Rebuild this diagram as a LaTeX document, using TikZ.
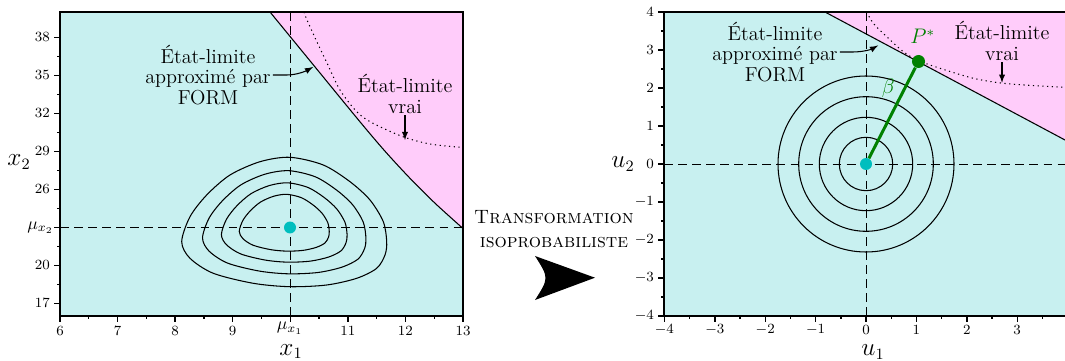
\documentclass[tikz,border=0pt]{standalone}
\usepackage{fontspec}
\usetikzlibrary{calc}

\definecolor{safecyan}{RGB}{200,240,240}
\definecolor{failpink}{RGB}{255,204,250}
\definecolor{meancyan}{RGB}{0,190,190}
\definecolor{designgreen}{RGB}{0,128,0}

\newcommand
    {\tickfont}
    {%
        \fontsize{8}{9}\selectfont%
    }

\begin{document}
\begin{tikzpicture}[x=0.02cm, y=-0.02cm,
        frame/.style={line width=0.8pt},
        axisdash/.style={line width=0.5pt, dash pattern=on 5pt off 3pt},
        formline/.style={line width=0.6pt},
        trueline/.style={line width=0.6pt, dash pattern=on 0.7pt off 2pt},
        contour/.style={line width=0.6pt},
        statelabel/.style={align=center, inner sep=1pt, font=\fontsize{11.5}{11.5}\selectfont},
        pointer/.style={-latex, line width=0.6pt},
        ticklabel/.style={inner sep=1pt, font=\tickfont},
        axislabel/.style={inner sep=0pt, font=\fontsize{13.5}{15}\selectfont},
        mulabel/.style={inner sep=0pt, font=\fontsize{10}{12}\selectfont},
        meandot/.style={circle, fill=meancyan, inner sep=0pt, minimum size=0.24cm},
        designdot/.style={circle, fill=designgreen, inner sep=0pt, minimum size=0.26cm}]
        \useasboundingbox (0,0) rectangle (1065,361);

        % 1. Left plot: physical space (x1, x2)
        \fill[safecyan] (60,12) rectangle (463,316);
        \fill[failpink] plot[smooth] coordinates {(270,12) (315,66.9) (360,121.8) (385,151.2) (410,178.3) (435,203.2) (463,228.5)} -- (463,12) -- cycle;
        \draw[formline] plot[smooth] coordinates {(270,12) (315,66.9) (360,121.8) (385,151.2) (410,178.3) (435,203.2) (463,228.5)};
        \draw[trueline] plot[smooth] coordinates {(304,12) (307,20) (317,42) (327,63) (340,90) (357,112) (373,123.3) (403,136.7) (430,144) (463,147.5)};

        % Mean lines
        \draw[axisdash] (290,12) -- (290,316);
        \draw[axisdash] (60,227.5) -- (463,227.5);

        % Density contours, scaled copies of the outer one
        \foreach \s in {1,0.797,0.613,0.439}
        {
            \begin{scope}[shift={(284.3,223.3)}, scale=\s]
                \draw[contour] plot[smooth cycle] coordinates {(-102.6,18.4) (-94.3,35) (-71,50) (-31,60) (5.7,63.4) (42.4,61.7) (72.4,55) (92.4,45) (100.7,31.7) (102.4,18.4) (99,-1.6) (85.7,-23.3) (65.7,-41.6) (39,-58.3) (5.7,-66) (-24.3,-61.6) (-54.3,-48.3) (-77.6,-28.3) (-94.3,-6.6)};
            \end{scope}
        }
        \node (m1) at (290,227.5) [meandot] {};

        % Labels and pointers
        \node (formlbl1) at (208,75) [statelabel] {État-limite\\approximé par\\FORM};
        \coordinate (formtip1) at (313,67);
        \draw[pointer] (formlbl1.east) -- ++(14,0) .. controls ++(10,0) and ($(formtip1)+(-7,4)$) .. (formtip1);

        \node (truelbl1) at (405,94) [statelabel] {État-limite\\vrai};
        \coordinate (truetip1) at (405,140);
        \draw[pointer] (truelbl1.south) -- (truetip1);

        % Frame and ticks
        \draw[frame] (60,12) rectangle (463,316);
        \foreach \v in {6,...,13}
            \draw[frame] ({60+57.571*(\v-6)},316) -- ++(0,6);
        \foreach \v in {6.5,7.5,...,12.5}
            \draw[frame] ({60+57.571*(\v-6)},316) -- ++(0,3);
        \foreach \v in {6,7,8,9,11,12,13}
            \node (xt\v) at ({60+57.571*(\v-6)},331) [ticklabel] {\v};
        \foreach \v in {17,20,...,38}
            \draw[frame] (60,{12+12.667*(40-\v)}) -- ++(-6,0);
        \foreach \v in {18.5,21.5,...,36.5}
            \draw[frame] (60,{12+12.667*(40-\v)}) -- ++(-3,0);
        \foreach \v in {17,20,26,29,32,35,38}
            \node (yt\v) at (52,{12+12.667*(40-\v)}) [ticklabel, anchor=east] {\v};
        \node (mu1lbl) at (290,322) [mulabel, anchor=north] {$\mu_{x_1}$};
        \node (mu2lbl) at (54,227.5) [mulabel, anchor=east] {$\mu_{x_2}$};
        \node (x1lbl) at (291,355) [axislabel, anchor=base] {$x_1$};
        \node (x2lbl) at (19,162) [axislabel] {$x_2$};

        % 2. Transformation arrow
        \node (transf) at (554,229) [align=center, inner sep=0pt, font=\fontsize{11}{14}\selectfont] {\textsc{Transformation}\\\textsc{isoprobabiliste}};
        \fill (535,256) -- (595,277.7) -- (535,300) .. controls (549,278) .. (535,256) -- cycle;

        % 3. Right plot: standard space (u1, u2)
        \fill[safecyan] (664,12) rectangle (1068,316);
        \fill[failpink] (825,12) -- (1068,141.6) -- (1068,12) -- cycle;
        \draw[formline] (825,12) -- (1068,141.6);
        \draw[trueline] plot[smooth] coordinates {(866.7,12) (873.3,23.3) (886.7,36.7) (903.3,51.7) (918,60.5) (940,68.3) (973.3,78.3) (1003.3,83.3) (1040,86) (1068,87.5)};

        \draw[axisdash] (866,12) -- (866,316);
        \draw[axisdash] (664,164) -- (1068,164);

        \coordinate (c2) at (866,164);
        \foreach \r in {26.7,46.7,67.3,88}
            \draw[contour] (c2) circle[radius=\r];

        \node (o2) at (c2) [meandot] {};
        \node (ps) at (918.5,61.5) [designdot] {};
        \draw[designgreen, line width=1.7pt] (o2) -- (ps);
        \node (pslbl) at (922.7,36.7) [inner sep=0pt, text=designgreen, font=\fontsize{12}{14}\selectfont] {$P^*$};
        \node (betalbl) at (888.3,88.3) [inner sep=0pt, text=designgreen, font=\fontsize{12}{14}\selectfont] {$\beta$};

        \node (formlbl2) at (775,52) [statelabel] {État-limite\\approximé par\\FORM};
        \coordinate (formtip2) at (878,45.5);
        \draw[pointer] (formlbl2.east) -- ++(13,0) .. controls ++(10,0) and ($(formtip2)+(-7,4)$) .. (formtip2);

        \node (truelbl2) at (1002,41) [statelabel] {État-limite\\vrai};
        \coordinate (truetip2) at (1002,82.7);
        \draw[pointer] (truelbl2.south) -- (truetip2);

        % Frame and ticks
        \draw[frame] (1068,12) -- (664,12) -- (664,316) -- (1068,316);
        \foreach \v in {-4,...,3}
            \draw[frame] ({866+50.4*\v},316) -- ++(0,6);
        \foreach \v in {-3.5,-2.5,...,3.5}
            \draw[frame] ({866+50.4*\v},316) -- ++(0,3);
        \foreach \v [count=\i] in {-4,...,3}
            \node (ut\i) at ({866+50.4*\v},330) [ticklabel] {$\v$};
        \foreach \v in {-4,...,4}
            \draw[frame] (664,{164-38*\v}) -- ++(-6,0);
        \foreach \v in {-3.5,-2.5,...,3.5}
            \draw[frame] (664,{164-38*\v}) -- ++(-3,0);
        \foreach \v [count=\i] in {-4,...,4}
            \node (vt\i) at (656,{164-38*\v}) [ticklabel, anchor=east] {$\v$};
        \node (u1lbl) at (873,356) [axislabel, anchor=base] {$u_1$};
        \node (u2lbl) at (623,164) [axislabel] {$u_2$};
\end{tikzpicture}
\end{document}
